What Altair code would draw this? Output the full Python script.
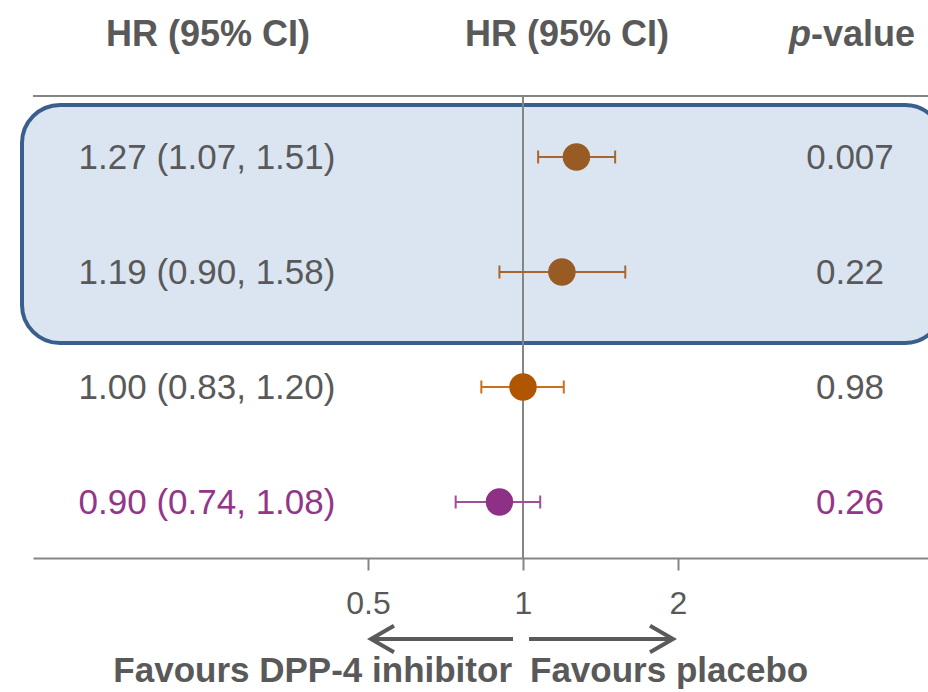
import altair as alt
import pandas as pd

# ---- data ----
rows = [0, 1, 2, 3]
hr = [1.27, 1.19, 1.00, 0.90]
lo = [1.07, 0.90, 0.83, 0.74]
hi = [1.51, 1.58, 1.20, 1.08]
pvals = ["0.007", "0.22", "0.98", "0.26"]
labels = [f"{h:.2f} ({l:.2f}, {u:.2f})" for h, l, u in zip(hr, lo, hi)]
headers = ["HR (95% CI)", "HR (95% CI)"]
pheader = ["p", "-value"]
favours = ["Favours DPP-4 inhibitor", "Favours placebo"]
tick_values = [0.5, 1, 2]

df = pd.DataFrame({"row": rows, "hr": hr, "lo": lo, "hi": hi,
                   "label": labels, "p": pvals})
one = pd.DataFrame({"k": [0]})

# ---- layout ----
FONT = "Liberation Sans, Arial, sans-serif"
W, H = 895, 558
X1 = 490          # pixel of HR = 1 inside plot
PX_DOUBLE = 155   # pixels per doubling
ROW0, STEP = 157, 115
GRAY = "#595959"
LINE = "#858585"

xscale = alt.Scale(type="log", domain=[2 ** (-X1 / PX_DOUBLE), 2 ** ((W - X1) / PX_DOUBLE)], nice=False)
yscale = alt.Scale(domain=[-ROW0 / STEP, (H - ROW0) / STEP], nice=False, zero=False, reverse=True)
xaxis = alt.Axis(values=tick_values, format="~g", grid=False, title="",
                 labelFont=FONT, labelFontSize=32, labelColor=GRAY, labelPadding=18,
                 labelFlush=False, tickSize=12, tickWidth=2, tickColor=LINE,
                 domainColor=LINE, domainWidth=2)
row_ids = rows
fill_scale = alt.Scale(domain=row_ids, range=["#985b24", "#985b24", "#b05500", "#8e3085"])
stroke_scale = alt.Scale(domain=row_ids, range=["#a8652c", "#a8652c", "#c8701e", "#a24c9a"])
text_scale = alt.Scale(domain=row_ids, range=[GRAY, GRAY, GRAY, "#92368a"])

box = alt.Chart(one).mark_rect(cornerRadius=38, fill="#dbe5f1", stroke="#3b5f8d", strokeWidth=4).encode(
    x=alt.value(-11), x2=alt.value(910), y=alt.value(105), y2=alt.value(343))

top_rule = alt.Chart(one).mark_rule(color=LINE, strokeWidth=2).encode(
    x=alt.value(0), x2=alt.value(W), y=alt.value(96))

vline = alt.Chart(one).mark_rule(color=LINE, strokeWidth=2).encode(
    x=alt.datum(1, type="quantitative", scale=xscale, axis=xaxis), y=alt.value(96), y2=alt.value(H))

bars = alt.Chart(df).mark_rule(strokeWidth=2).encode(
    x=alt.X("lo:Q", scale=xscale, axis=xaxis), x2="hi:Q",
    y=alt.Y("row:Q", scale=yscale, axis=None),
    stroke=alt.Stroke("row:N", scale=stroke_scale, legend=None))

caps = alt.Chart(df).transform_fold(["lo", "hi"], as_=["end", "v"]).mark_point(
    shape="M0,-1L0,1", size=169, strokeWidth=2, filled=False, opacity=1).encode(
    x=alt.X("v:Q", scale=xscale, axis=xaxis),
    y=alt.Y("row:Q", scale=yscale, axis=None),
    stroke=alt.Stroke("row:N", scale=stroke_scale, legend=None))

points = alt.Chart(df).mark_circle(size=755, opacity=1).encode(
    x=alt.X("hr:Q", scale=xscale, axis=xaxis),
    y=alt.Y("row:Q", scale=yscale, axis=None),
    fill=alt.Fill("row:N", scale=fill_scale, legend=None))

row_text = dict(font=FONT, fontSize=35, align="center", baseline="alphabetic", dy=12)
lab_text = alt.Chart(df).mark_text(**row_text).encode(
    x=alt.value(174), y=alt.Y("row:Q", scale=yscale, axis=None), text="label:N",
    color=alt.Color("row:N", scale=text_scale, legend=None))
p_text = alt.Chart(df).mark_text(**row_text).encode(
    x=alt.value(817), y=alt.Y("row:Q", scale=yscale, axis=None), text="p:N",
    color=alt.Color("row:N", scale=text_scale, legend=None))

hdr_style = dict(font=FONT, fontSize=36, fontWeight="bold", color=GRAY, baseline="alphabetic")
h1 = alt.Chart(one).mark_text(align="center", text=headers[0], **hdr_style).encode(x=alt.value(175), y=alt.value(46))
h2 = alt.Chart(one).mark_text(align="center", text=headers[1], **hdr_style).encode(x=alt.value(534), y=alt.value(46))
hp1 = alt.Chart(one).mark_text(align="right", text=pheader[0], fontStyle="italic", **hdr_style).encode(x=alt.value(778), y=alt.value(46))
hp2 = alt.Chart(one).mark_text(align="left", text=pheader[1], **hdr_style).encode(x=alt.value(778), y=alt.value(46))

fav_style = dict(font=FONT, fontSize=35, fontWeight="bold", color=GRAY, baseline="alphabetic")
f1 = alt.Chart(one).mark_text(align="right", text=favours[0], **fav_style).encode(x=alt.value(479), y=alt.value(682))
f2 = alt.Chart(one).mark_text(align="left", text=favours[1], **fav_style).encode(x=alt.value(497), y=alt.value(682))

ARROW = "#5a5a5a"
shaft_l = alt.Chart(one).mark_rule(color=ARROW, strokeWidth=4).encode(x=alt.value(338), x2=alt.value(480), y=alt.value(639))
shaft_r = alt.Chart(one).mark_rule(color=ARROW, strokeWidth=4).encode(x=alt.value(496), x2=alt.value(639), y=alt.value(639))
head_l = alt.Chart(one).mark_point(shape="M1,-0.58L0,0L1,0.58", size=2116, strokeWidth=4, filled=False,
                                   opacity=1, color=ARROW, strokeJoin="miter").encode(x=alt.value(338), y=alt.value(639))
head_r = alt.Chart(one).mark_point(shape="M-1,-0.58L0,0L-1,0.58", size=2116, strokeWidth=4, filled=False,
                                   opacity=1, color=ARROW, strokeJoin="miter").encode(x=alt.value(640), y=alt.value(639))

chart = alt.layer(
    box, top_rule, vline, bars, caps, points, lab_text, p_text,
    h1, h2, hp1, hp2, f1, f2, shaft_l, shaft_r, head_l, head_r
).resolve_scale(
    color="independent", fill="independent", stroke="independent"
).properties(
    width=W, height=H,
    autosize=alt.AutoSizeParams(type="none"),
    padding={"left": 33, "top": 0, "right": 0, "bottom": 692 - H},
    background="white",
).configure_view(strokeWidth=0)

chart.save("out.html", embed_options={"renderer": "svg", "actions": False})
